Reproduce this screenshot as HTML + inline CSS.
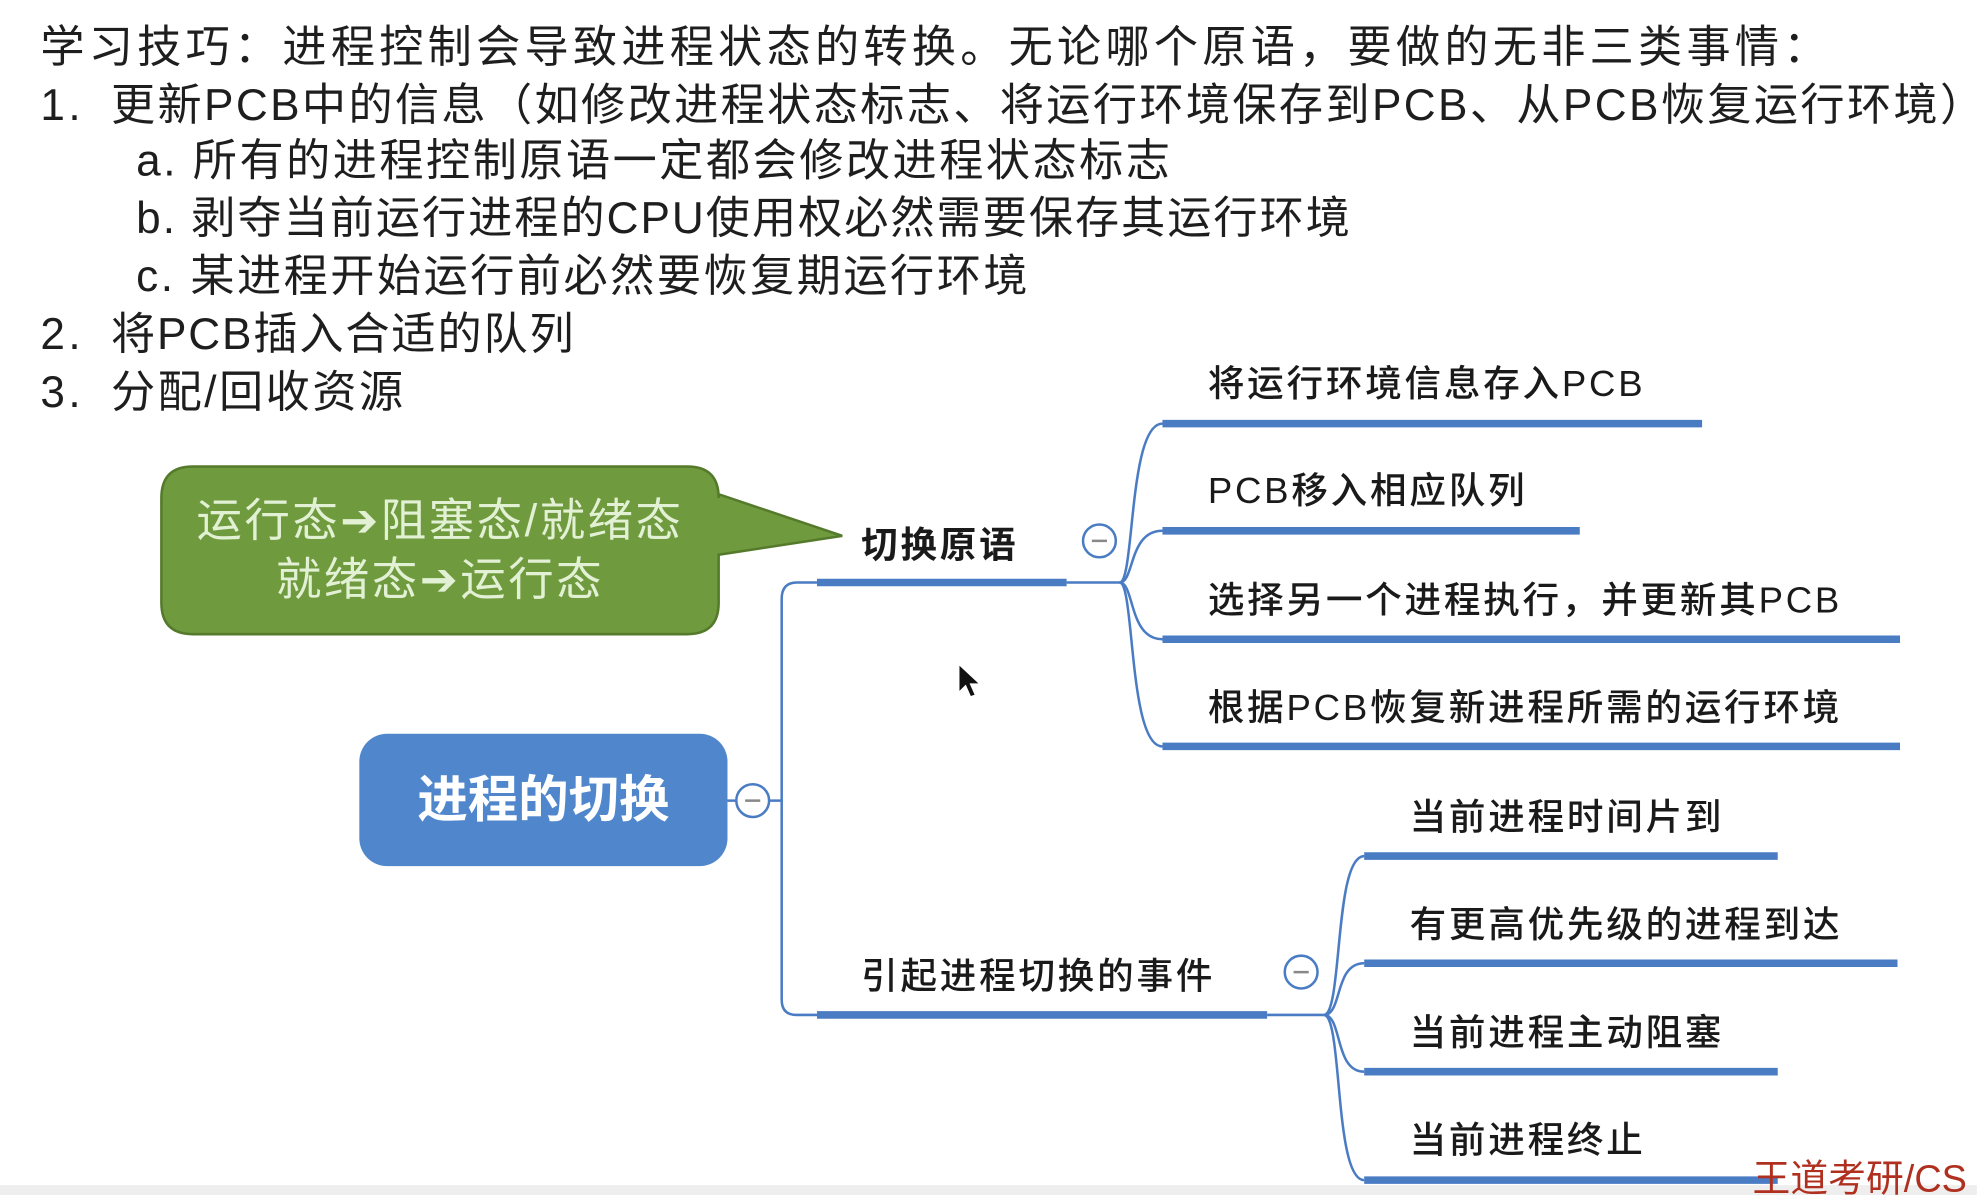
<!DOCTYPE html>
<html><head><meta charset="utf-8">
<style>
html,body{margin:0;padding:0;background:#fff;overflow:hidden;}
body{width:1977px;height:1195px;position:relative;}
#s{position:absolute;left:0;top:0;width:1568px;height:948px;transform:scale(1.2608);transform-origin:0 0;font-family:"Liberation Sans","Noto Sans CJK SC",sans-serif;color:#1e1e1e;}
.t{position:absolute;white-space:nowrap;font-size:35px;letter-spacing:2.8px;line-height:46px;}
.n{position:absolute;white-space:nowrap;font-size:29px;letter-spacing:2.2px;line-height:36px;color:#1a1a1a;font-weight:500;}
.ar{font-family:"DejaVu Sans",sans-serif;font-weight:bold;}
</style></head><body>
<div id="s">
<div class="t" style="left:32px;top:15px;letter-spacing:3.4px">学习技巧：进程控制会导致进程状态的转换。无论哪个原语，要做的无非三类事情：</div>
<div class="t" style="left:32px;top:61px">1.</div>
<div class="t" style="left:88px;top:61px;letter-spacing:1.9px">更新PCB中的信息（如修改进程状态标志、将运行环境保存到PCB、从PCB恢复运行环境）</div>
<div class="t" style="left:108px;top:105px;letter-spacing:2px">a. 所有的进程控制原语一定都会修改进程状态标志</div>
<div class="t" style="left:108px;top:151px;letter-spacing:1.6px">b. 剥夺当前运行进程的CPU使用权必然需要保存其运行环境</div>
<div class="t" style="left:108px;top:197px;letter-spacing:2px">c. 某进程开始运行前必然要恢复期运行环境</div>
<div class="t" style="left:32px;top:243px">2.</div>
<div class="t" style="left:88px;top:243px;letter-spacing:1.5px">将PCB插入合适的队列</div>
<div class="t" style="left:32px;top:289px">3.</div>
<div class="t" style="left:88px;top:289px;letter-spacing:2px">分配/回收资源</div>

<svg width="1568" height="948" style="position:absolute;left:0;top:0">
<rect x="0" y="940" width="1568" height="8" fill="#eeeeee"/>
<g fill="none" stroke="#4a7cc4" stroke-width="2">
<path d="M648,462 H632 Q620,462 620,475 V793 Q620,805 632,805 H648"/>
<path d="M846,462 H888"/>
<path d="M888,462 C900,462 895,336 922,336"/>
<path d="M888,462 C900,462 895,421 922,421"/>
<path d="M888,462 C900,462 895,507 922,507"/>
<path d="M888,462 C900,462 895,592 922,592"/>
<path d="M1005,805 H1050"/>
<path d="M1050,805 C1065,805 1058,679 1082,679"/>
<path d="M1050,805 C1065,805 1058,764 1082,764"/>
<path d="M1050,805 C1065,805 1058,850 1082,850"/>
<path d="M1050,805 C1065,805 1058,936 1082,936"/>
<path d="M577,635 H620"/>
</g>
<g stroke="#4a7cc4" stroke-width="6">
<path d="M648,462 H846"/><path d="M648,805 H1005"/>
<path d="M922,336 H1350"/><path d="M922,421 H1253"/><path d="M922,507 H1507"/><path d="M922,592 H1507"/>
<path d="M1082,679 H1410"/><path d="M1082,764 H1505"/><path d="M1082,850 H1410"/><path d="M1082,936 H1410"/>
</g>
<g fill="#fff" stroke="#4a7cc4" stroke-width="2">
<circle cx="872" cy="429" r="13"/><circle cx="597" cy="635" r="13"/><circle cx="1032" cy="771" r="13"/>
</g>
<g stroke="#888" stroke-width="2"><path d="M866,429H878M591,635H603M1026,771H1038"/></g>
<path d="M153,370 H545 Q570,370 570,395 V392 L668,425 L570,440 V478 Q570,503 545,503 H153 Q128,503 128,478 V395 Q128,370 153,370 Z" fill="#6f9a3e" stroke="#557a2c" stroke-width="2"/>
<rect x="285" y="582" width="292" height="105" rx="22" fill="#5087cc"/>
<path d="M761,528 L761,548 L766,543 L770,552 L773,551 L769,542 L776,542 Z" fill="#111"/>
</svg>

<div style="position:absolute;left:128px;top:390px;width:442px;text-align:center;font-size:36px;line-height:46px;color:#e2f0d4;letter-spacing:2px">运行态<span class="ar">➔</span>阻塞态/就绪态<br>就绪态<span class="ar">➔</span>运行态</div>
<div style="position:absolute;left:285px;top:612px;width:292px;text-align:center;font-size:40px;font-weight:bold;color:#fff;line-height:46px">进程的切换</div>
<div class="n" style="left:683px;top:415px;font-weight:bold">切换原语</div>
<div class="n" style="left:683px;top:757px">引起进程切换的事件</div>
<div class="n" style="left:958px;top:287px">将运行环境信息存入PCB</div>
<div class="n" style="left:958px;top:372px">PCB移入相应队列</div>
<div class="n" style="left:958px;top:459px">选择另一个进程执行，并更新其PCB</div>
<div class="n" style="left:958px;top:544px">根据PCB恢复新进程所需的运行环境</div>
<div class="n" style="left:1118px;top:631px">当前进程时间片到</div>
<div class="n" style="left:1118px;top:716px">有更高优先级的进程到达</div>
<div class="n" style="left:1118px;top:802px">当前进程主动阻塞</div>
<div class="n" style="left:1118px;top:887px">当前进程终止</div>
<div style="position:absolute;left:1390px;top:918px;font-size:30px;color:#b0301f;white-space:nowrap;line-height:36px">王道考研/CS</div>
</div>
</body></html>
